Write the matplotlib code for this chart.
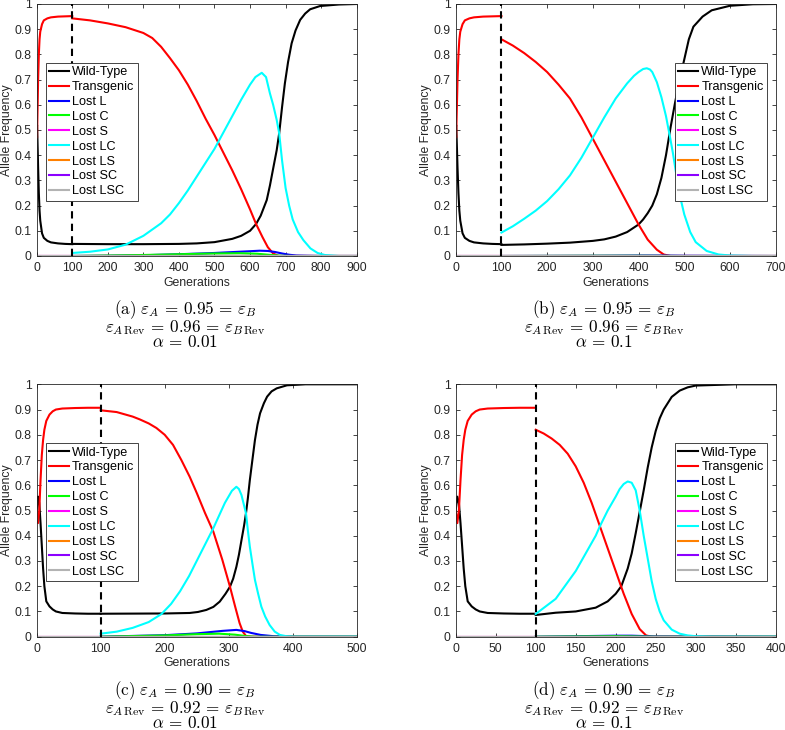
import matplotlib
matplotlib.use('Agg')
import matplotlib.pyplot as plt

plt.rcParams['font.family'] = ['Liberation Sans', 'DejaVu Sans']
plt.rcParams['mathtext.fontset'] = 'cm'

RELEASE_GEN = 100
SERIES = ['Wild-Type', 'Transgenic', 'Lost L', 'Lost C', 'Lost S',
          'Lost LC', 'Lost LS', 'Lost SC', 'Lost LSC']

# shared phase before the release (a and b share it, c and d share it)
PRE_AB_GEN = [0, 1, 2, 4, 6, 8, 10, 15, 20, 30, 40, 60, 80, 100]
PRE_AB_WILD = [0.50, 0.52, 0.47, 0.35, 0.25, 0.18, 0.14, 0.09, 0.072, 0.06, 0.054, 0.05, 0.048, 0.047]
PRE_AB_TRANS = [0.50, 0.47, 0.55, 0.70, 0.80, 0.86, 0.89, 0.92, 0.935, 0.943, 0.947, 0.95, 0.951, 0.952]

PRE_CD_GEN = [0, 2, 4, 6, 8, 10, 12, 15, 20, 25, 30, 40, 60, 80, 100]
PRE_CD_WILD = [0.50, 0.555, 0.53, 0.45, 0.36, 0.27, 0.2, 0.14, 0.12, 0.108, 0.10, 0.094, 0.092, 0.091, 0.091]
PRE_CD_TRANS = [0.50, 0.45, 0.50, 0.62, 0.72, 0.78, 0.82, 0.855, 0.88, 0.893, 0.90, 0.904, 0.906, 0.907, 0.907]

# (a)
A_WILD_GEN = [100, 200, 300, 400, 450, 500, 550, 575, 600, 617, 630, 647, 656, 666, 675, 682, 690, 698,
              707, 717, 728, 741, 755, 769, 797, 850, 900]
A_WILD = [0.048, 0.047, 0.047, 0.048, 0.05, 0.055, 0.068, 0.08, 0.10, 0.127, 0.16, 0.222, 0.28, 0.354,
          0.42, 0.487, 0.59, 0.685, 0.77, 0.844, 0.895, 0.937, 0.962, 0.979, 0.992, 0.998, 1.0]
A_TRANS_GEN = [100, 150, 200, 250, 300, 325, 350, 375, 400, 425, 450, 475, 500, 525, 550, 575, 600, 617,
               635, 650, 665, 680, 900]
A_TRANS = [0.943, 0.935, 0.923, 0.908, 0.885, 0.865, 0.83, 0.785, 0.737, 0.68, 0.615, 0.545, 0.48, 0.41,
           0.34, 0.265, 0.185, 0.127, 0.075, 0.035, 0.01, 0.0, 0.0]
A_LC_GEN = [100, 150, 200, 250, 300, 350, 375, 400, 425, 450, 475, 500, 525, 550, 575, 600, 615, 633, 645,
            656, 665, 675, 682, 690, 700, 710, 720, 735, 750, 770, 790, 810, 850, 900]
A_LC = [0.012, 0.017, 0.026, 0.045, 0.08, 0.13, 0.165, 0.21, 0.26, 0.315, 0.37, 0.425, 0.49, 0.555, 0.62,
        0.68, 0.71, 0.727, 0.71, 0.645, 0.60, 0.54, 0.487, 0.38, 0.27, 0.20, 0.145, 0.095, 0.063, 0.03,
        0.012, 0.004, 0.0, 0.0]
A_L_GEN = [100, 200, 300, 400, 500, 600, 627, 650, 670, 690, 710, 730, 760, 800, 900]
A_L = [0.0, 0.001, 0.003, 0.007, 0.012, 0.019, 0.021, 0.02, 0.016, 0.01, 0.005, 0.002, 0.001, 0.0, 0.0]
A_C_GEN = [100, 200, 300, 400, 500, 570, 620, 660, 690, 720, 900]
A_C = [0.0, 0.002, 0.004, 0.007, 0.010, 0.011, 0.009, 0.004, 0.001, 0.0, 0.0]

# (b)
B_WILD_GEN = [100, 150, 200, 250, 300, 325, 350, 375, 400, 410, 420, 430, 440, 450, 460, 470, 480, 490,
              500, 510, 520, 540, 560, 600, 650, 700]
B_WILD = [0.044, 0.046, 0.049, 0.053, 0.06, 0.066, 0.077, 0.095, 0.125, 0.145, 0.17, 0.2, 0.245, 0.31,
          0.4, 0.51, 0.61, 0.7, 0.78, 0.86, 0.91, 0.95, 0.975, 0.993, 0.999, 1.0]
B_TRANS_GEN = [100, 125, 150, 175, 200, 225, 250, 275, 300, 325, 350, 375, 400, 420, 440, 455, 470, 700]
B_TRANS = [0.86, 0.835, 0.805, 0.77, 0.73, 0.68, 0.625, 0.55, 0.465, 0.38, 0.295, 0.21, 0.125, 0.065,
           0.025, 0.006, 0.0, 0.0]
B_LC_GEN = [100, 125, 150, 175, 200, 225, 250, 275, 300, 325, 350, 375, 390, 400, 410, 418, 425, 430, 440,
            450, 460, 469, 475, 482, 491, 500, 513, 525, 549, 575, 600, 650, 700]
B_LC = [0.093, 0.118, 0.148, 0.18, 0.218, 0.265, 0.32, 0.39, 0.47, 0.55, 0.625, 0.685, 0.715, 0.73, 0.742,
        0.745, 0.74, 0.73, 0.69, 0.63, 0.555, 0.47, 0.41, 0.33, 0.235, 0.165, 0.095, 0.055, 0.02, 0.006,
        0.002, 0.0, 0.0]
B_L_GEN = [100, 300, 400, 450, 500, 700]
B_L = [0.0, 0.001, 0.002, 0.002, 0.001, 0.0]
B_C_GEN = [100, 300, 400, 500, 700]
B_C = [0.0, 0.001, 0.001, 0.0, 0.0]

# (c)
C_WILD_GEN = [100, 200, 239, 252, 265, 276, 286, 295, 302, 307, 312, 316, 320, 324, 327, 330, 333, 337,
              341, 345, 349, 355, 360, 367, 375, 391, 420, 500]
C_WILD = [0.091, 0.092, 0.094, 0.098, 0.106, 0.118, 0.139, 0.17, 0.198, 0.23, 0.277, 0.325, 0.383, 0.44,
          0.489, 0.55, 0.62, 0.70, 0.779, 0.84, 0.885, 0.925, 0.951, 0.972, 0.984, 0.996, 1.0, 1.0]
C_TRANS_GEN = [100, 125, 150, 161, 175, 187, 200, 213, 226, 239, 250, 263, 276, 290, 302, 310, 317, 322,
               327, 335, 500]
C_TRANS = [0.897, 0.89, 0.872, 0.861, 0.845, 0.827, 0.80, 0.76, 0.70, 0.634, 0.57, 0.49, 0.416, 0.305,
           0.198, 0.12, 0.054, 0.02, 0.003, 0.0, 0.0]
C_LC_GEN = [100, 125, 150, 175, 195, 210, 224, 238, 252, 265, 276, 285, 294, 305, 312, 316, 320, 324, 327,
            330, 333, 337, 341, 346, 351, 357, 364, 372, 380, 390, 400, 500]
C_LC = [0.012, 0.02, 0.035, 0.058, 0.09, 0.13, 0.18, 0.24, 0.31, 0.375, 0.43, 0.48, 0.53, 0.578,
        0.594, 0.585, 0.561, 0.52, 0.489, 0.42, 0.357, 0.29, 0.225, 0.17, 0.119, 0.08, 0.046, 0.02, 0.007,
        0.002, 0.0, 0.0]
C_L_GEN = [100, 200, 250, 290, 312, 325, 335, 350, 370, 400, 500]
C_L = [0.0, 0.006, 0.013, 0.023, 0.027, 0.022, 0.015, 0.007, 0.002, 0.0, 0.0]
C_C_GEN = [100, 200, 250, 285, 310, 325, 340, 500]
C_C = [0.0, 0.005, 0.01, 0.012, 0.008, 0.003, 0.0, 0.0]

# (d)
D_WILD_GEN = [100, 125, 150, 175, 190, 200, 207, 215, 220, 225, 230, 235, 240, 245, 250, 255, 260, 270,
              280, 290, 300, 350, 400]
D_WILD = [0.086, 0.095, 0.10, 0.115, 0.14, 0.17, 0.20, 0.27, 0.33, 0.41, 0.495, 0.58, 0.67, 0.75, 0.815,
          0.865, 0.90, 0.95, 0.975, 0.988, 0.995, 1.0, 1.0]
D_TRANS_GEN = [100, 110, 120, 130, 140, 150, 160, 170, 180, 190, 200, 210, 220, 230, 238, 245, 400]
D_TRANS = [0.82, 0.805, 0.785, 0.76, 0.725, 0.675, 0.61, 0.53, 0.44, 0.35, 0.26, 0.17, 0.09, 0.03, 0.005,
           0.0, 0.0]
D_LC_GEN = [100, 125, 150, 175, 180, 190, 200, 205, 210, 215, 220, 225, 230, 235, 240, 245, 250, 255, 260,
            270, 280, 290, 300, 320, 400]
D_LC = [0.09, 0.15, 0.26, 0.40, 0.436, 0.50, 0.555, 0.585, 0.605, 0.615, 0.61, 0.58, 0.50, 0.40, 0.31,
        0.22, 0.15, 0.10, 0.065, 0.028, 0.012, 0.005, 0.002, 0.0, 0.0]
D_L_GEN = [100, 200, 220, 250, 400]
D_L = [0.0, 0.004, 0.004, 0.001, 0.0]
D_C_GEN = [100, 200, 250, 400]
D_C = [0.0, 0.002, 0.0, 0.0]

# the lost S / LS / SC / LSC alleles stay at zero over the whole run
ZERO_FREQ = [0.0, 0.0]

XMAX = {'a': 900, 'b': 700, 'c': 500, 'd': 400}
XSTEP = {'a': 100, 'b': 100, 'c': 100, 'd': 50}

CAPTIONS = {
    'a': ['0.95', '0.96', '0.01'],
    'b': ['0.95', '0.96', '0.1'],
    'c': ['0.90', '0.92', '0.01'],
    'd': ['0.90', '0.92', '0.1'],
}

COLORS = ['k', (1, 0, 0), (0, 0, 1), (0, 1, 0), (1, 0, 1), (0, 1, 1),
          (1, 0.5, 0), (0.55, 0, 1), (0.7, 0.7, 0.7)]

panels = {
    'a': (PRE_AB_GEN, PRE_AB_WILD, PRE_AB_TRANS,
          [(A_WILD_GEN, A_WILD), (A_TRANS_GEN, A_TRANS), (A_L_GEN, A_L), (A_C_GEN, A_C), None,
           (A_LC_GEN, A_LC), None, None, None]),
    'b': (PRE_AB_GEN, PRE_AB_WILD, PRE_AB_TRANS,
          [(B_WILD_GEN, B_WILD), (B_TRANS_GEN, B_TRANS), (B_L_GEN, B_L), (B_C_GEN, B_C), None,
           (B_LC_GEN, B_LC), None, None, None]),
    'c': (PRE_CD_GEN, PRE_CD_WILD, PRE_CD_TRANS,
          [(C_WILD_GEN, C_WILD), (C_TRANS_GEN, C_TRANS), (C_L_GEN, C_L), (C_C_GEN, C_C), None,
           (C_LC_GEN, C_LC), None, None, None]),
    'd': (PRE_CD_GEN, PRE_CD_WILD, PRE_CD_TRANS,
          [(D_WILD_GEN, D_WILD), (D_TRANS_GEN, D_TRANS), (D_L_GEN, D_L), (D_C_GEN, D_C), None,
           (D_LC_GEN, D_LC), None, None, None]),
}

W, H = 785, 730
fig = plt.figure(figsize=(W / 100, H / 100), dpi=100)

# axes boxes in pixels: left, top, right, bottom
boxes = {
    'a': (36.7, 4, 356.7, 256),
    'b': (455.7, 4, 775.7, 256),
    'c': (36.7, 384.3, 356.7, 636.7),
    'd': (455.7, 384.3, 775.7, 636.7),
}
gray = (0.15, 0.15, 0.15)
FS = 8.8

for key, (pre_gen, pre_wild, pre_trans, post) in panels.items():
    l, t, r, b = boxes[key]
    ax = fig.add_axes([l / W, 1 - b / H, (r - l) / W, (b - t) / H])
    xmax = XMAX[key]

    for i, name in enumerate(SERIES):
        c = COLORS[i]
        if i == 0:
            ax.plot(pre_gen, pre_wild, color=c, lw=1.5)
        elif i == 1:
            ax.plot(pre_gen, pre_trans, color=c, lw=1.5)
        if post[i] is None:
            ax.plot([0, xmax], ZERO_FREQ, color=c, lw=1.5, label=name)
        else:
            ax.plot(post[i][0], post[i][1], color=c, lw=1.5, label=name)

    ax.axvline(RELEASE_GEN, color='k', ls=(0, (3.5, 2.5)), lw=1.5, zorder=5)

    ax.set_xlim(0, xmax)
    ax.set_ylim(0, 1)
    ax.set_xticks(range(0, xmax + 1, XSTEP[key]))
    ax.set_yticks([i / 10 for i in range(11)])
    ax.set_yticklabels(['0'] + ['%.1f' % (i / 10) for i in range(1, 10)] + ['1'])
    ax.tick_params(direction='in', length=3, width=0.6, colors=gray, labelsize=FS,
                   top=True, right=True, pad=3.5)
    ax.tick_params(axis='x', pad=4.5)
    for s in ax.spines.values():
        s.set_color(gray)
        s.set_linewidth(0.6)

    ax.set_xlabel('Generations', fontsize=FS, color=gray)
    ax.xaxis.set_label_coords(0.5, -0.082)
    ax.set_ylabel('Allele Frequency', fontsize=FS, color=gray)
    ax.yaxis.set_label_coords(-0.074, 0.5)

    leg_kw = dict(fontsize=9.1, handlelength=1.6, handletextpad=0.25, labelspacing=0.23,
                  borderpad=0.25, borderaxespad=0, fancybox=False, framealpha=1,
                  edgecolor=gray)
    if key in ('a', 'c'):
        leg = ax.legend(loc='upper left', bbox_to_anchor=(0.028, 0.766), **leg_kw)
    else:
        leg = ax.legend(loc='upper right', bbox_to_anchor=(0.972, 0.766), **leg_kw)
    leg.get_frame().set_linewidth(0.6)

    # caption under each panel, one text block of three lines
    cx = (l - 36.7 + 185) / W
    e1, e2, alpha = CAPTIONS[key]
    caption = '\n'.join([
        r'$\mathrm{(%s)}\ \varepsilon_A\, =\, %s\, =\, \varepsilon_B$' % (key, e1),
        r'${\varepsilon_A}_{\mathrm{Rev}}\, =\, %s\, =\, {\varepsilon_B}_{\mathrm{Rev}}$' % e2,
        r'$\alpha\, =\, %s$' % alpha,
    ])
    fig.text(cx, 1 - (b + 42.5) / H, caption, ha='center', va='top', multialignment='center',
             fontsize=12.3, linespacing=0.78)

fig.savefig('out.png', dpi=100)
